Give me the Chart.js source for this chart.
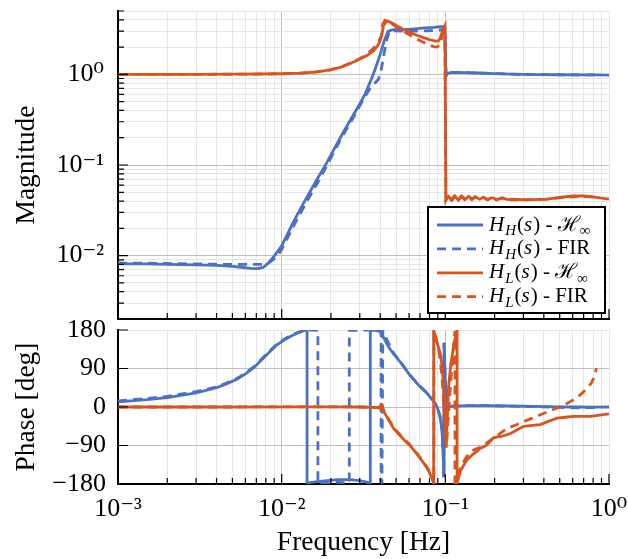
<!DOCTYPE html>
<html>
<head>
<meta charset="utf-8">
<script src="https://cdn.jsdelivr.net/npm/chart.js@4.4.1/dist/chart.umd.min.js"></script>
<style>
html,body{margin:0;padding:0;background:#fff;}
#wrap{position:relative;width:628px;height:559px;overflow:hidden;background:#fff;}
#mag{position:absolute;left:0;top:0;}
#ph{position:absolute;left:0;top:320px;}
</style>
</head>
<body>
<div id="wrap">
<canvas id="mag" width="628" height="330"></canvas>
<canvas id="ph" width="628" height="239"></canvas>
</div>
<script>
// ---------------- DATA ----------------
// Legend labels ($...$ = math mode, _x = subscript)
const seriesLabels = ['$H_H(s)$ - $ℋ_∞$', '$H_H(s)$ - FIR', '$H_L(s)$ - $ℋ_∞$', '$H_L(s)$ - FIR'];
const plainLabels = ['H_H(s) - H∞', 'H_H(s) - FIR', 'H_L(s) - H∞', 'H_L(s) - FIR'];

// Tick values / labels
const freqDecades = [0.001, 0.01, 0.1];
const freqMax = 1;
const magTickMinor = [0.002,0.003,0.004,0.005,0.006,0.007,0.008,0.009,
                      0.01,0.02,0.03,0.04,0.05,0.06,0.07,0.08,0.09,
                      0.1,0.2,0.3,0.4,0.5,0.6,0.7,0.8,0.9,1,2,3,4,5];
const phaseTicks = [-180, -90, 0, 90, 180];

// Magnitude: H_H(s) - H_inf (blue solid)
const hhInfMagFreq = [0.001,0.0015,0.002,0.003,0.004,0.005,0.0058,0.0065,0.0071,0.0077,0.0083,0.009,0.01,0.0118,0.0136,0.0165,0.0188,0.0215,0.0238,0.027,0.03,0.0325,0.0347,0.037,0.04,0.0425,0.0448,0.048,0.055,0.065,0.075,0.085,0.0927,0.0973,0.0993,0.1005,0.1015,0.103,0.107,0.115,0.13,0.16,0.2,0.25,0.35,0.5,0.7,0.85,1.0];
const hhInfMag     = [0.0081,0.0081,0.0080,0.0079,0.0078,0.0076,0.0074,0.00725,0.0072,0.0074,0.0083,0.0099,0.0128,0.0235,0.038,0.07,0.105,0.165,0.23,0.34,0.47,0.62,0.82,1.1,1.66,2.4,3.0,3.12,3.12,3.18,3.25,3.3,3.35,3.36,3.2,1.2,0.97,1.02,1.045,1.05,1.045,1.035,1.02,1.005,0.995,0.99,0.985,0.985,0.98];

// Magnitude: H_H(s) - FIR (blue dashed)
const hhFirMagFreq = [0.001,0.002,0.003,0.005,0.007,0.0078,0.0085,0.0093,0.01,0.0118,0.0136,0.0165,0.0188,0.0215,0.0238,0.027,0.03,0.0325,0.035,0.037,0.039,0.0405,0.042,0.0438,0.0455,0.048,0.055,0.065,0.075,0.085,0.093,0.0973,0.0993,0.1005,0.1015,0.103,0.107,0.115,0.13,0.16,0.2,0.25,0.35,0.5,0.7,0.84];
const hhFirMag     = [0.0083,0.0082,0.0081,0.0080,0.0080,0.0080,0.0085,0.0097,0.0117,0.021,0.034,0.063,0.097,0.155,0.215,0.32,0.45,0.58,0.72,0.8,0.88,1.1,1.6,2.4,3.0,3.02,3.0,3.0,3.02,3.05,3.08,3.15,3.25,1.2,0.97,1.02,1.045,1.05,1.045,1.035,1.02,1.005,0.995,0.99,0.985,0.985];

// Magnitude: H_L(s) - H_inf (orange solid)
const hlInfMagFreq = [0.001,0.003,0.006,0.01,0.013,0.016,0.0198,0.023,0.0262,0.0295,0.033,0.0365,0.0385,0.040,0.041,0.042,0.0435,0.0444,0.047,0.0507,0.056,0.0611,0.067,0.0737,0.08,0.0869,0.0905,0.093,0.0955,0.0975,0.0995,0.1008,0.1047,0.110,0.115,0.120,0.1264,0.133,0.139,0.146,0.1526,0.162,0.1714,0.182,0.193,0.207,0.222,0.24,0.256,0.29,0.35,0.42,0.5,0.6,0.7,0.8,0.9,1.0];
const hlInfMag     = [1.0,1.0,1.005,1.015,1.03,1.06,1.12,1.2,1.32,1.45,1.6,1.82,2.05,2.35,2.8,3.5,3.8,3.87,3.7,3.41,3.1,2.88,2.7,2.54,2.42,2.33,2.33,2.5,2.9,3.2,3.45,0.041,0.045,0.041,0.045,0.041,0.045,0.042,0.045,0.042,0.0445,0.042,0.044,0.0415,0.0435,0.0415,0.0435,0.0415,0.042,0.0415,0.0415,0.042,0.044,0.0455,0.0455,0.0445,0.043,0.042];

// Magnitude: H_L(s) - FIR (orange dashed)
const hlFirMagFreq = [0.001,0.003,0.006,0.01,0.013,0.016,0.0198,0.023,0.0262,0.0295,0.033,0.036,0.0385,0.0405,0.0415,0.0428,0.0444,0.047,0.0507,0.056,0.0611,0.067,0.0737,0.08,0.085,0.089,0.092,0.0945,0.097,0.0992,0.1008,0.104,0.1085,0.1135,0.119,0.125,0.131,0.138,0.145,0.152,0.16,0.17,0.18,0.192,0.205,0.22,0.237,0.255,0.29,0.35,0.42,0.5,0.6,0.7,0.84];
const hlFirMag     = [1.0,1.0,1.005,1.015,1.03,1.06,1.12,1.2,1.33,1.47,1.65,1.9,2.2,2.6,3.6,3.95,3.85,3.6,3.3,2.95,2.7,2.45,2.25,2.1,2.02,2.0,2.1,2.4,3.0,3.4,0.041,0.045,0.041,0.0455,0.041,0.0455,0.0415,0.045,0.0415,0.0445,0.0415,0.044,0.0415,0.0435,0.041,0.043,0.041,0.0415,0.041,0.0415,0.042,0.0435,0.0445,0.045,0.044];

// Phase: H_H(s) - H_inf (blue solid)
const hhInfPhFreq = [0.001,0.0015,0.002,0.003,0.004,0.0046,0.0054,0.0061,0.0068,0.0074,0.0084,0.0094,0.0104,0.0113,0.0125,0.0135,0.0143,0.0143,0.016,0.019,0.022,0.026,0.03,0.0335,0.0348,0.0348,0.0375,0.040,0.042,0.045,0.0483,0.0531,0.0611,0.069,0.0773,0.084,0.0889,0.0925,0.0955,0.0972,0.0978,0.0982,0.1000,0.1024,0.11,0.136,0.18,0.25,0.35,0.5,0.65,0.8,1.0];
const hhInfPh     = [12,17,22,33,45,54,66,79,93,107,128,146,157,165,173,178,180,-178,-175,-172,-170,-170,-172,-176,-179,180,179,176,162,140,124,105,73,50,32,15,1,-20,-55,-120,-165,150,60,-2,2,3,3,2.5,1.5,0.5,0,-0.5,0];

// Phase: H_H(s) - FIR (blue dashed)
const hhFirPhFreq = [0.001,0.0015,0.002,0.003,0.004,0.0046,0.0054,0.0061,0.0068,0.0074,0.0084,0.0094,0.0104,0.0113,0.0125,0.0135,0.0145,0.0155,0.01665,0.01665,0.019,0.022,0.0259,0.0259,0.03,0.035,0.0389,0.0405,0.0405,0.041,0.0415,0.044,0.0483,0.0531,0.0611,0.069,0.0773,0.084,0.0889,0.0925,0.0955,0.0972,0.0978,0.0982,0.1000,0.1024,0.11,0.136,0.18,0.25,0.35,0.5,0.65,0.84];
const hhFirPh     = [14,20,25,36,47,56,68,81,95,109,130,148,159,167,174,178,179.5,179.5,179,-179,-177,-176,-177,179,179.5,179.5,179,178,-178,-176,178,157,126,106,74,51,33,16,2,-19,-54,-118,-163,150,60,-2,2,3,3,2,1,-1,-2,-1];

// Phase: H_L(s) - H_inf (orange solid)
const hlInfPhFreq = [0.001,0.005,0.01,0.02,0.03,0.036,0.0398,0.042,0.045,0.0483,0.052,0.0557,0.06,0.064,0.069,0.0737,0.078,0.081,0.0835,0.0849,0.0849,0.0875,0.093,0.0955,0.0977,0.0992,0.1002,0.1012,0.1047,0.108,0.1124,0.1155,0.118,0.118,0.1236,0.13,0.136,0.146,0.156,0.164,0.172,0.18,0.188,0.197,0.207,0.217,0.232,0.25,0.27,0.301,0.34,0.381,0.43,0.482,0.54,0.609,0.69,0.771,0.88,1.0];
const hlInfPh     = [0,0,0.5,0.5,0,-1,-2,-10,-30,-50,-64,-76,-88,-100,-116,-131,-145,-158,-170,-179,179,160,126,95,48,0,-60,-88,48,100,142,165,177,-178,-150,-135,-123,-112,-104,-96,-93,-88,-80,-72,-70,-69,-66,-62,-55,-45,-43,-41,-33,-26,-24,-22,-22,-22,-19,-16];

// Phase: H_L(s) - FIR (orange dashed)
const hlFirPhFreq = [0.001,0.005,0.01,0.02,0.03,0.036,0.0395,0.0405,0.0412,0.0425,0.045,0.0483,0.052,0.0557,0.06,0.064,0.069,0.0737,0.078,0.081,0.0835,0.0852,0.0852,0.088,0.092,0.0955,0.098,0.1,0.1015,0.104,0.108,0.112,0.1145,0.1145,0.12,0.126,0.1335,0.1423,0.152,0.164,0.176,0.188,0.197,0.21,0.238,0.27,0.301,0.34,0.381,0.43,0.482,0.54,0.609,0.67,0.736,0.78,0.807,0.825,0.838];
const hlFirPh     = [0,0,0.5,0.5,0,-1,-2,13,2,-12,-28,-48,-62,-74,-86,-98,-114,-129,-143,-156,-168,-179,179,158,125,70,0,-60,-95,-30,60,140,178,-178,-155,-135,-119,-105,-99,-94,-86,-78,-72,-65,-50,-42,-34,-26,-18,-10,-2,6,17,29,44,56,68,80,91];

// ---------------- STYLE ----------------
const FONT = "'Liberation Serif', 'DejaVu Serif', serif";
const BLUE = '#4a72c4';
const ORANGE = '#d9541e';
const MAJOR_GRID = '#bfbfbf';
const MINOR_GRID = '#e6e6e6';
const DASH = [9, 6];
const LINE_W = 2.8;
const TICK_SIZE = 26;
const TITLE_SIZE = 27.5;
Chart.defaults.font.family = FONT;
Chart.defaults.color = '#000';

function isDecade(v){ const l = Math.log10(v); return Math.abs(l - Math.round(l)) < 1e-6; }
const SUP = {'-':'\u207B','0':'\u2070','1':'\u00B9','2':'\u00B2','3':'\u00B3','4':'\u2074','5':'\u2075'};
function pow10Label(v){ const e = Math.round(Math.log10(v)); return '10' + String(e).split('').map(c => SUP[c]).join(''); }

const freqTicks = [];
freqDecades.forEach(d => { for (let m = 1; m <= 9; m++) freqTicks.push(m * d); });
freqTicks.push(freqMax);

function toPts(fx, fy){ return fx.map((f, i) => ({x: f, y: fy[i]})); }
function ds(fx, fy, color, dash, label, order){
  return {label, data: toPts(fx, fy), borderColor: color, backgroundColor: color,
          borderDash: dash, borderWidth: LINE_W, pointRadius: 0, fill: false, tension: 0, order};
}

function logGridColor(max){
  return ctx => {
    const v = ctx.tick ? ctx.tick.value : null;
    if (v == null) return MINOR_GRID;
    return (isDecade(v) && Math.abs(v - max) > 1e-9) ? MAJOR_GRID : MINOR_GRID;
  };
}
function fixSize(w, h){
  return s => {
    if (w != null) s.width = w;
    if (h != null) s.height = h;
    s.paddingLeft = 0; s.paddingRight = 0; s.paddingTop = 0; s.paddingBottom = 0;
  };
}

const inwardTicks = {
  id: 'inwardTicks',
  afterDatasetsDraw(chart){
    const {ctx, chartArea: a, scales} = chart;
    ctx.save();
    ctx.strokeStyle = '#000';
    ctx.lineWidth = 1.2;
    ctx.beginPath();
    scales.x.ticks.forEach(t => {
      const px = scales.x.getPixelForValue(t.value);
      const len = isDecade(t.value) ? 10 : 6;
      ctx.moveTo(px, a.bottom); ctx.lineTo(px, a.bottom - len);
    });
    const ys = scales.y;
    ys.ticks.forEach(t => {
      const py = ys.getPixelForValue(t.value);
      const len = ys.type === 'logarithmic' ? (isDecade(t.value) ? 10 : 6) : 10;
      ctx.moveTo(a.left, py); ctx.lineTo(a.left + len, py);
    });
    ctx.stroke();
    ctx.restore();
  }
};

function drawRich(ctx, str, x, y, size){
  let math = false;
  let i = 0;
  while (i < str.length){
    const c = str[i];
    if (c === '$'){ math = !math; i++; continue; }
    if (c === '_'){
      const s = str[i + 1];
      const it = math && /[A-Za-z]/.test(s);
      ctx.font = (it ? 'italic ' : '') + Math.round(size * 0.7) + 'px ' + FONT;
      ctx.fillText(s, x, y + size * 0.28);
      x += ctx.measureText(s).width + 1;
      i += 2; continue;
    }
    const it = math && /[A-Za-z]/.test(c);
    ctx.font = (it ? 'italic ' : '') + size + 'px ' + FONT;
    ctx.fillText(c, x, y);
    x += ctx.measureText(c).width + (it ? 1 : 0);
    i++;
  }
}

const mathLegend = {
  id: 'mathLegend',
  afterDraw(chart){
    const {ctx, chartArea: a} = chart;
    const w = 177, h = 106;
    const bx = a.right - 4 - w, by = a.bottom - 6 - h;
    ctx.save();
    ctx.fillStyle = '#fff';
    ctx.fillRect(bx, by, w, h);
    ctx.strokeStyle = '#000';
    ctx.lineWidth = 2;
    ctx.strokeRect(bx, by, w, h);
    [0, 1, 2, 3].forEach((idx, r) => {
      const d = chart.data.datasets[idx];
      const cy = by + 18 + r * 23.9;
      ctx.beginPath();
      ctx.setLineDash(d.borderDash || []);
      ctx.strokeStyle = d.borderColor;
      ctx.lineWidth = LINE_W;
      ctx.moveTo(bx + 9, cy); ctx.lineTo(bx + 55, cy);
      ctx.stroke();
      ctx.setLineDash([]);
      ctx.fillStyle = '#000';
      ctx.textBaseline = 'middle';
      ctx.textAlign = 'left';
      drawRich(ctx, seriesLabels[idx], bx + 61, cy, 21);
    });
    ctx.restore();
  }
};

// ---------------- MAGNITUDE ----------------
new Chart(document.getElementById('mag'), {
  type: 'line',
  data: {datasets: [
    ds(hhInfMagFreq, hhInfMag, BLUE, [], plainLabels[0], 4),
    ds(hhFirMagFreq, hhFirMag, BLUE, DASH, plainLabels[1], 3),
    ds(hlInfMagFreq, hlInfMag, ORANGE, [], plainLabels[2], 2),
    ds(hlFirMagFreq, hlFirMag, ORANGE, DASH, plainLabels[3], 1)
  ]},
  options: {
    responsive: false, animation: false, devicePixelRatio: 1,
    layout: {padding: {left: 0, right: 19, top: 11, bottom: 0}},
    plugins: {legend: {display: false}, tooltip: {enabled: false}},
    scales: {
      x: {
        type: 'logarithmic', min: 0.001, max: 1,
        afterBuildTicks: s => { s.ticks = freqTicks.map(v => ({value: v})); },
        ticks: {display: false, autoSkip: false},
        grid: {color: logGridColor(1), lineWidth: 1, drawTicks: false},
        border: {display: true, color: '#000', width: 2},
        afterFit: fixSize(null, 11)
      },
      y: {
        type: 'logarithmic', min: 0.002, max: 5,
        afterBuildTicks: s => { s.ticks = magTickMinor.map(v => ({value: v})); },
        ticks: {autoSkip: false, callback: v => isDecade(v) ? pow10Label(v) : '',
                font: {size: TICK_SIZE, family: FONT}, color: '#000', padding: 14},
        grid: {color: logGridColor(5), lineWidth: 1, drawTicks: false},
        border: {display: true, color: '#000', width: 2},
        title: {display: true, text: 'Magnitude', color: '#000',
                font: {size: TITLE_SIZE, family: FONT}, padding: {top: 10, bottom: 0}},
        afterFit: fixSize(118, null)
      }
    }
  },
  plugins: [inwardTicks, mathLegend]
});

// ---------------- PHASE ----------------
new Chart(document.getElementById('ph'), {
  type: 'line',
  data: {datasets: [
    ds(hhInfPhFreq, hhInfPh, BLUE, [], plainLabels[0], 4),
    ds(hhFirPhFreq, hhFirPh, BLUE, DASH, plainLabels[1], 3),
    ds(hlInfPhFreq, hlInfPh, ORANGE, [], plainLabels[2], 2),
    ds(hlFirPhFreq, hlFirPh, ORANGE, DASH, plainLabels[3], 1)
  ]},
  options: {
    responsive: false, animation: false, devicePixelRatio: 1,
    layout: {padding: {left: 0, right: 19, top: 10, bottom: 0}},
    plugins: {legend: {display: false}, tooltip: {enabled: false}},
    scales: {
      x: {
        type: 'logarithmic', min: 0.001, max: 1,
        afterBuildTicks: s => { s.ticks = freqTicks.map(v => ({value: v})); },
        ticks: {autoSkip: false, maxRotation: 0, minRotation: 0,
                callback: v => isDecade(v) ? pow10Label(v) : '',
                font: {size: TICK_SIZE, family: FONT}, color: '#000', padding: 10},
        grid: {color: logGridColor(1), lineWidth: 1, drawTicks: false},
        border: {display: true, color: '#000', width: 2},
        title: {display: true, text: 'Frequency [Hz]', color: '#000',
                font: {size: TITLE_SIZE, family: FONT}, padding: {top: 0, bottom: 0}},
        afterFit: fixSize(null, 75)
      },
      y: {
        type: 'linear', min: -180, max: 180,
        afterBuildTicks: s => { s.ticks = phaseTicks.map(v => ({value: v})); },
        ticks: {autoSkip: false, callback: v => v < 0 ? '\u2212' + (-v) : String(v),
                font: {size: TICK_SIZE, family: FONT}, color: '#000', padding: 12},
        grid: {color: ctx => (ctx.tick && ctx.tick.value === 180) ? MINOR_GRID : MAJOR_GRID, lineWidth: 1, drawTicks: false},
        border: {display: true, color: '#000', width: 2},
        title: {display: true, text: 'Phase [deg]', color: '#000',
                font: {size: TITLE_SIZE, family: FONT}, padding: {top: 10, bottom: 0}},
        afterFit: fixSize(118, null)
      }
    }
  },
  plugins: [inwardTicks]
});
</script>
</body>
</html>
